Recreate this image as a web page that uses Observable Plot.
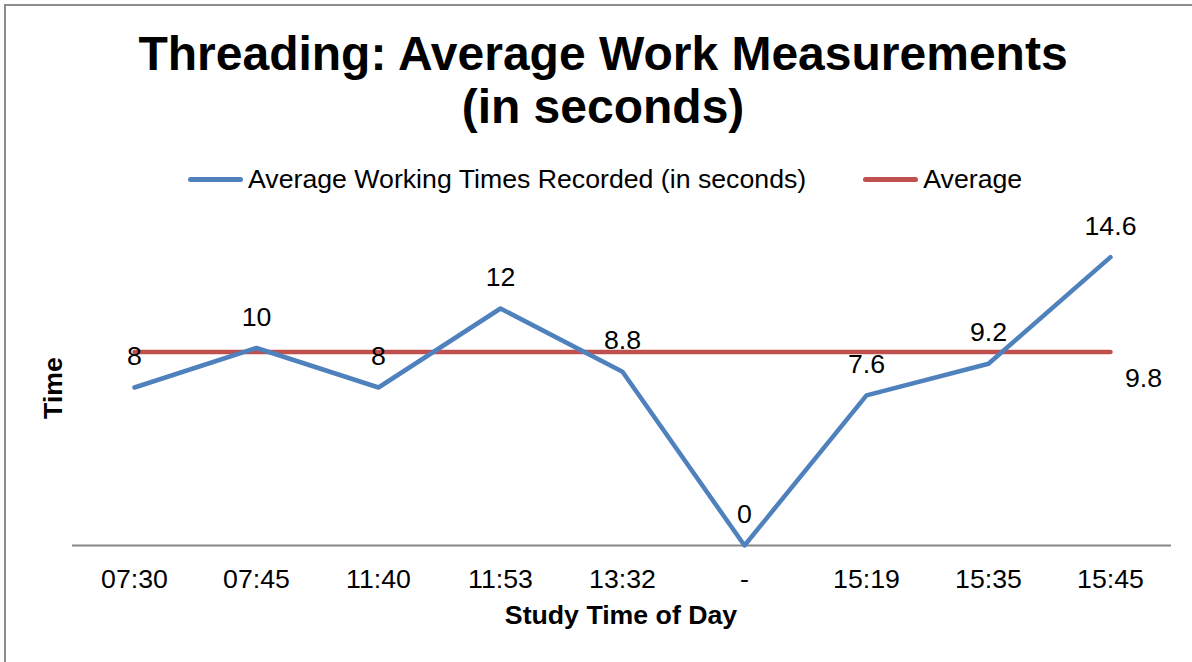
<!DOCTYPE html>
<html>
<head>
<meta charset="utf-8">
<script src="https://cdn.jsdelivr.net/npm/d3@7"></script>
<script src="https://cdn.jsdelivr.net/npm/@observablehq/plot@0.6"></script>
<style>
  html, body { margin: 0; padding: 0; background: #fff; }
  #wrap { position: relative; width: 1192px; height: 662px; overflow: hidden; font-family: "Liberation Sans", Arial, sans-serif; color: #000; }
  #border { position: absolute; left: 4px; top: 4px; width: 1200px; height: 700px; border-left: 2px solid #8c8c8c; border-top: 2px solid #8c8c8c; box-sizing: border-box; }
  #title { position: absolute; left: 0; width: 1206px; top: 27px; text-align: center; font-weight: bold; font-size: 48px; line-height: 53px; }
  #legend { position: absolute; top: 164px; left: 188px; height: 30px; display: flex; align-items: center; font-size: 26.7px; }
  .sw { width: 55px; height: 5px; border-radius: 3px; margin-right: 5px; }
  #ytitle { position: absolute; left: 53px; top: 388px; transform: translate(-50%, -50%) rotate(-90deg); font-weight: bold; font-size: 26.7px; white-space: nowrap; }
  #xtitle { position: absolute; left: 0; width: 1242px; top: 600px; text-align: center; font-weight: bold; font-size: 26.7px; line-height: 30px; }
  #chart { position: absolute; left: 0; top: 0; }
</style>
</head>
<body>
<div id="wrap">
  <div id="chart"></div>
  <div id="border"></div>
  <div id="title">Threading: Average Work Measurements<br>(in seconds)</div>
  <div id="legend"></div>
  <div id="ytitle">Time</div>
  <div id="xtitle">Study Time of Day</div>
</div>
<script>
const categories = ["07:30", "07:45", "11:40", "11:53", "13:32", "-", "15:19", "15:35", "15:45"];
const workTimes = [8, 10, 8, 12, 8.8, 0, 7.6, 9.2, 14.6];
const averageValues = [9.8, 9.8, 9.8, 9.8, 9.8, 9.8, 9.8, 9.8, 9.8];
const seriesNames = ["Average Working Times Recorded (in seconds)", "Average"];
const seriesColors = ["#4F81BD", "#C0504D"];

const work = categories.map((c, i) => ({cat: c, v: workTimes[i]}));
const avg = categories.map((c, i) => ({cat: c, v: averageValues[i]}));

const legend = document.getElementById("legend");
seriesNames.forEach((n, i) => {
  const sw = document.createElement("div");
  sw.className = "sw";
  sw.style.background = seriesColors[i];
  const t = document.createElement("div");
  t.textContent = n;
  if (i > 0) sw.style.marginLeft = "57px";
  legend.appendChild(sw);
  legend.appendChild(t);
});

const plot = Plot.plot({
  width: 1192,
  height: 662,
  marginLeft: 72,
  marginRight: 21,
  marginTop: 229,
  marginBottom: 117,
  style: {fontFamily: "'Liberation Sans', Arial, sans-serif", fontSize: "26.7px", color: "#000", background: "transparent"},
  x: {type: "band", domain: categories, padding: 0, tickSize: 0, tickPadding: 24, label: null},
  y: {domain: [0, 16], axis: null},
  marks: [
    Plot.ruleY([0], {stroke: "#868686", strokeWidth: 2}),
    Plot.lineY(avg, {x: "cat", y: "v", stroke: seriesColors[1], strokeWidth: 4.5, strokeLinecap: "round"}),
    Plot.lineY(work, {x: "cat", y: "v", stroke: seriesColors[0], strokeWidth: 4.5, strokeLinecap: "round", strokeLinejoin: "round"}),
    Plot.text(work, {x: "cat", y: "v", text: d => String(d.v), dy: -31, fill: "#000", fontSize: 26.7}),
    Plot.text(avg.slice(-1), {x: "cat", y: "v", text: d => String(d.v), dx: 33, dy: 27, fill: "#000", fontSize: 26.7})
  ]
});
document.getElementById("chart").appendChild(plot);
</script>
</body>
</html>
